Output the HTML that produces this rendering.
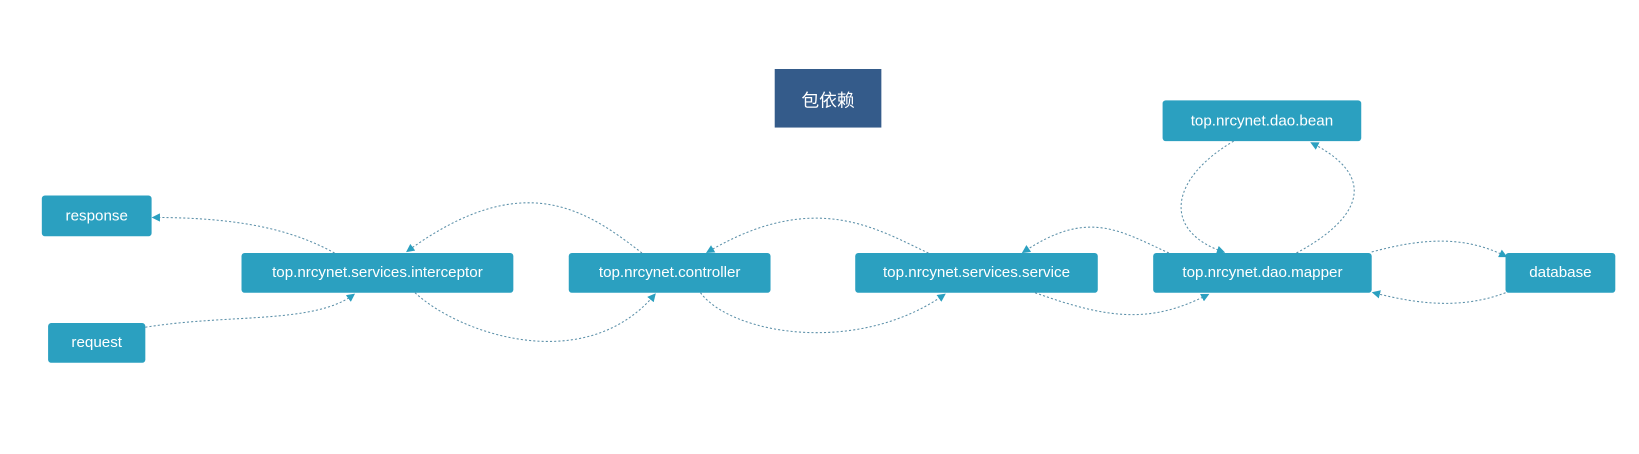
<!DOCTYPE html>
<html><head><meta charset="utf-8"><style>
body{margin:0;width:1639px;height:453px;background:#fff;position:relative;overflow:hidden;font-family:"Liberation Sans","Noto Sans CJK SC",sans-serif}
#w{position:absolute;left:0;top:0;width:1568px;height:434px;transform:scale(1.0455);transform-origin:0 0}
.b{position:absolute;background:#2ba0c0;color:#fff;border-radius:3px;display:flex;align-items:center;justify-content:center;font-size:14.5px}
svg{position:absolute;left:0;top:0}
</style></head><body><div id="w">
<div class="b" style="left:741px;top:66px;width:102px;height:56px;background:#345b8a;border-radius:0;font-size:17px">包依赖</div>
<div class="b" style="left:40px;top:187px;width:105px;height:39px">response</div>
<div class="b" style="left:46px;top:309px;width:93px;height:38px">request</div>
<div class="b" style="left:231px;top:242px;width:260px;height:38px">top.nrcynet.services.interceptor</div>
<div class="b" style="left:544px;top:242px;width:193px;height:38px">top.nrcynet.controller</div>
<div class="b" style="left:818px;top:242px;width:232px;height:38px">top.nrcynet.services.service</div>
<div class="b" style="left:1103px;top:242px;width:209px;height:38px">top.nrcynet.dao.mapper</div>
<div class="b" style="left:1112px;top:96px;width:190px;height:39px">top.nrcynet.dao.bean</div>
<div class="b" style="left:1440px;top:242px;width:105px;height:38px">database</div>
<svg width="1568" height="434">
<defs><marker id="a" markerWidth="8" markerHeight="8" refX="6" refY="4" orient="auto" markerUnits="userSpaceOnUse"><path d="M0,0 L8,4 L0,8 z" fill="#2ba0c0"/></marker></defs>
<g fill="none" stroke="#5a8fa8" stroke-width="1" stroke-dasharray="2,2" marker-end="url(#a)">
<path d="M320,242 C280,220 230,208 147,208"/>
<path d="M139,313 C220,300 300,310 338,282"/>
<path d="M614,242 C560,200 500,160 390,240"/>
<path d="M397,280 C440,320 560,360 626,282"/>
<path d="M888,242 C840,220 780,180 677,241"/>
<path d="M670,280 C700,320 820,340 903,282"/>
<path d="M1118,242 C1070,220 1040,200 979,241"/>
<path d="M990,280 C1060,305 1100,310 1155,282"/>
<path d="M1180,135 C1120,170 1110,220 1170,241"/>
<path d="M1240,242 C1300,210 1320,170 1255,137"/>
<path d="M1312,241 C1360,228 1400,225 1440,245"/>
<path d="M1440,280 C1400,295 1360,292 1314,280"/>
</g></svg>
</div></body></html>
